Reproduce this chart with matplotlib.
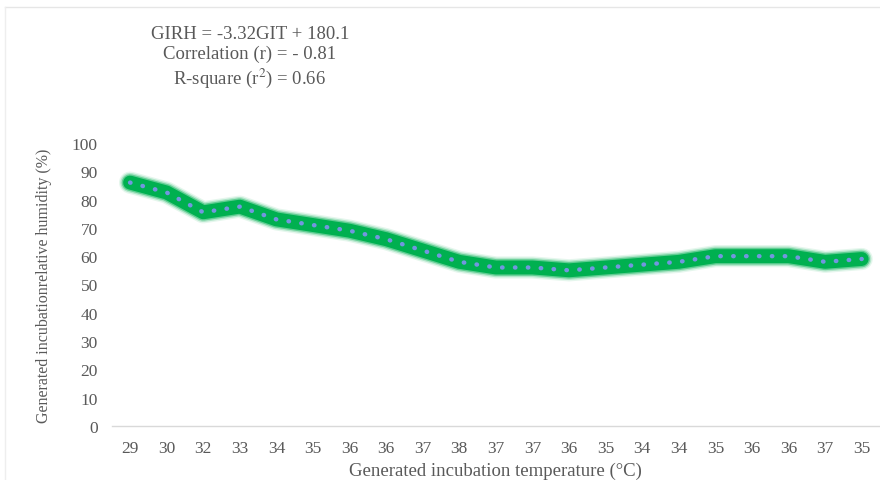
import matplotlib.pyplot as plt
from matplotlib.lines import Line2D

# x categories (generated incubation temperature, degC) and humidity values (%)
temp_labels = ['29', '30', '32', '33', '34', '35', '36', '36', '37', '38', '37',
               '37', '36', '35', '34', '34', '35', '36', '36', '37', '35']
humidity = [86, 82.5, 75.5, 77.5, 73, 71, 69, 66, 62, 58, 56,
            56, 55, 56, 57, 58, 60, 60, 60, 58, 59]
y_ticks = [0, 10, 20, 30, 40, 50, 60, 70, 80, 90, 100]

stats_text = "GIRH = -3.32GIT + 180.1\nCorrelation (r) = - 0.81\nR-square (r$^2$) = 0.66"

TXT = "#595959"
plt.rcParams['font.family'] = ['Liberation Serif', 'DejaVu Serif']
plt.rcParams['mathtext.fontset'] = 'stix'

fig = plt.figure(figsize=(8.8, 4.81), dpi=100)
ax = fig.add_axes([0.127, 0.1123, 0.873, 0.5884])

x = list(range(len(humidity)))
# soft green glow
for lw, a in [(16, 0.10), (14, 0.22), (12, 0.45)]:
    ax.plot(x, humidity, color="#00B050", lw=lw, alpha=a,
            solid_capstyle="round", solid_joinstyle="round")
ax.plot(x, humidity, color="#00B050", lw=10,
        solid_capstyle="round", solid_joinstyle="round")
ax.plot(x, humidity, color="#7396E0", lw=3.2, linestyle=(0, (0.1, 2.8)),
        dash_capstyle="round")

ax.set_xlim(-0.5, len(humidity) - 0.5)
ax.set_ylim(0, 100)
ax.set_yticks(y_ticks)
ax.set_xticks(x)
ax.set_xticklabels(temp_labels)
ax.tick_params(axis='both', length=0, labelsize=12.5, labelcolor=TXT)
ax.tick_params(axis='y', pad=10)
ax.tick_params(axis='x', pad=10)

for s in ['top', 'right', 'left']:
    ax.spines[s].set_visible(False)
ax.spines['bottom'].set_color("#D9D9D9")
ax.spines['bottom'].set_linewidth(1.0)

ax.set_xlabel("Generated incubation temperature (°C)", fontsize=13.5, color=TXT, labelpad=4)
ax.set_ylabel("Generated incubationrelative humidity (%)", fontsize=11.5, color=TXT, labelpad=14)

fig.text(250 / 880, 1 - 58 / 481, stats_text, ha='center', va='center',
         fontsize=13.5, color=TXT, linespacing=1.2)

# faint outer frame (top and left edges)
fig.add_artist(Line2D([5 / 880, 1], [1 - 8 / 481, 1 - 8 / 481], color="#E6E6E6", lw=1,
                      transform=fig.transFigure))
fig.add_artist(Line2D([5 / 880, 5 / 880], [0, 1 - 8 / 481], color="#EEEEEE", lw=1,
                      transform=fig.transFigure))

fig.savefig("out.png", dpi=100)
